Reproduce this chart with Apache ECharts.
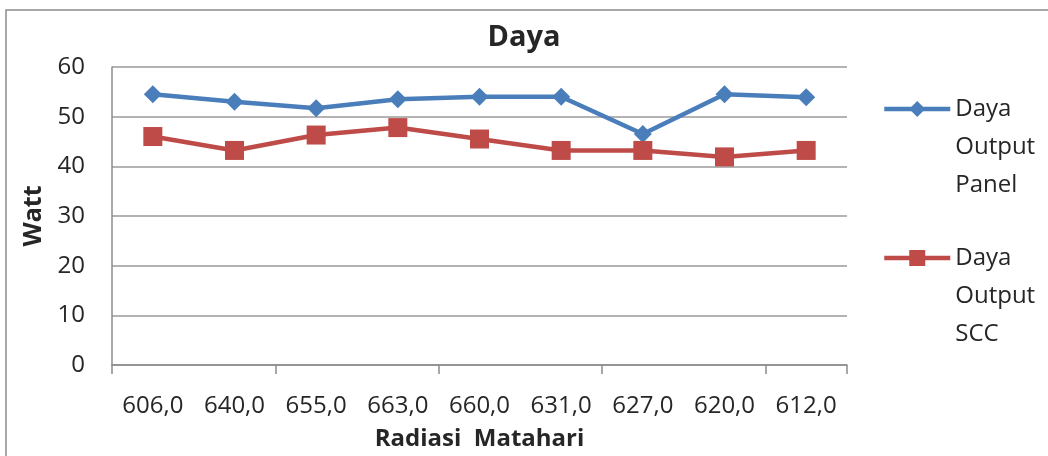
<!DOCTYPE html>
<html>
<head>
<meta charset="utf-8">
<script src="https://cdn.jsdelivr.net/npm/echarts@6/dist/echarts.min.js"></script>
<style>
  html, body { margin: 0; padding: 0; background: #fff; }
  #chart { width: 1048px; height: 456px; }
</style>
</head>
<body>
<div id="chart"></div>
<script>
// Solar irradiance readings (category labels) and output power in watts
const categories = ['606,0', '640,0', '655,0', '663,0', '660,0', '631,0', '627,0', '620,0', '612,0'];
const panelOutput = [54.5, 53.0, 51.7, 53.5, 54.0, 54.0, 46.5, 54.5, 53.9];
const sccOutput = [46.0, 43.2, 46.3, 47.8, 45.5, 43.2, 43.2, 41.9, 43.2];
const yMin = 0, yMax = 60, yStep = 10;

const FONT = "'Open Sans', 'Liberation Sans', sans-serif";
const TEXT = '#262626';
const GRID = '#9a9a9a';

const chart = echarts.init(document.getElementById('chart'), null, { renderer: 'canvas' });

chart.setOption({
  backgroundColor: '#ffffff',
  animation: false,
  textStyle: { fontFamily: FONT },
  graphic: [{
    type: 'rect',
    shape: { x: 6, y: 10, width: 1100, height: 500 },
    style: { fill: 'none', stroke: '#8c8c8c', lineWidth: 1.5 },
    silent: true
  }],
  title: {
    text: 'Daya',
    left: 'center',
    top: 18,
    padding: [5, 5, 5, 13],
    textStyle: { fontFamily: FONT, fontSize: 29, fontWeight: 'bold', color: TEXT }
  },
  legend: {
    orient: 'vertical',
    left: 877,
    top: 9,
    itemWidth: 66,
    itemHeight: 20,
    itemGap: -41,
    // two blank lines above keep the first word level with the legend marker
    formatter: name => '\n\n' + name.split(' ').join('\n'),
    lineStyle: { width: 4.5 },
    textStyle: { fontFamily: FONT, fontSize: 24, color: TEXT, lineHeight: 38 },
    data: ['Daya Output Panel', 'Daya Output SCC']
  },
  grid: { left: 112, right: 201, top: 67, bottom: 89, containLabel: false },
  xAxis: {
    type: 'category',
    data: categories,
    boundaryGap: true,
    name: 'Radiasi  Matahari',
    nameLocation: 'middle',
    nameGap: 62,
    nameTextStyle: { fontFamily: FONT, fontSize: 24, fontWeight: 'bold', color: TEXT },
    axisLine: { lineStyle: { color: '#8c8c8c', width: 1.5 } },
    axisTick: { show: true, interval: 1, length: 9, lineStyle: { color: '#8c8c8c', width: 1.5 } },
    axisLabel: { interval: 0, margin: 29, fontFamily: FONT, fontSize: 24, color: TEXT }
  },
  yAxis: {
    type: 'value',
    min: yMin,
    max: yMax,
    interval: yStep,
    name: 'Watt',
    nameLocation: 'middle',
    nameRotate: 90,
    nameGap: 66,
    nameTextStyle: { fontFamily: FONT, fontSize: 25, fontWeight: 'bold', color: TEXT },
    axisLine: { show: true, lineStyle: { color: '#8c8c8c', width: 1.5 } },
    axisTick: { show: false },
    axisLabel: { margin: 27, fontFamily: FONT, fontSize: 24, color: TEXT },
    splitLine: { show: true, lineStyle: { color: GRID, width: 1.5 } }
  },
  series: [
    {
      name: 'Daya Output Panel',
      type: 'line',
      data: panelOutput,
      symbol: 'diamond',
      symbolSize: 18,
      color: '#4A7EBB',
      lineStyle: { width: 4.5, color: '#4A7EBB' },
      itemStyle: { color: '#4A7EBB' }
    },
    {
      name: 'Daya Output SCC',
      type: 'line',
      data: sccOutput,
      symbol: 'rect',
      symbolSize: 19,
      color: '#BE4B48',
      lineStyle: { width: 4.5, color: '#BE4B48' },
      itemStyle: { color: '#BE4B48' }
    }
  ]
});
</script>
</body>
</html>
